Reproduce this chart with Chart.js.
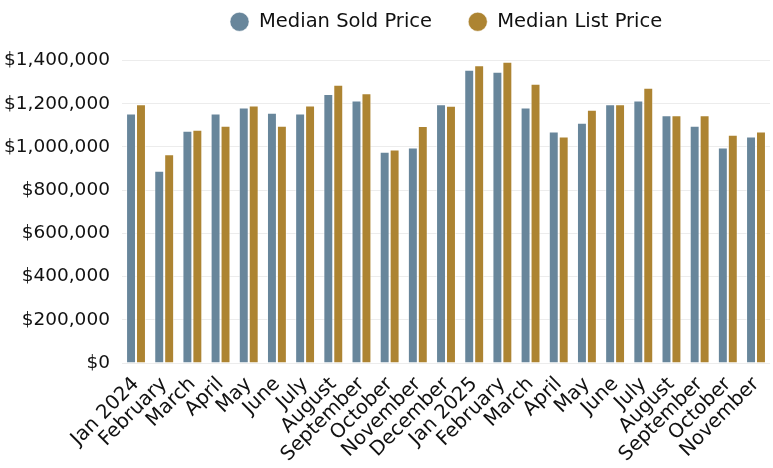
<!DOCTYPE html>
<html>
<head>
<meta charset="utf-8">
<script src="https://cdn.jsdelivr.net/npm/chart.js@4"></script>
<style>
  html, body { margin: 0; padding: 0; background: #fff; }
  #wrap { width: 773px; height: 468px; }
</style>
</head>
<body>
<div id="wrap"><canvas id="myChart"></canvas></div>
<script>
let months = ['Jan 2024','February','March','April','May','June','July','August','September','October','November','December',
              'Jan 2025','February','March','April','May','June','July','August','September','October','November']
let soldPrice = [1155000, 890000, 1075000, 1155000, 1183000, 1158000, 1155000, 1245000, 1215000, 978000, 998000, 1198000,
                 1357000, 1348000, 1183000, 1072000, 1112000, 1198000, 1215000, 1147000, 1098000, 998000, 1048000]
let listPrice = [1198000, 966000, 1080000, 1098000, 1192000, 1098000, 1192000, 1288000, 1248000, 988000, 1097000, 1191000,
                 1378000, 1394000, 1292000, 1048000, 1172000, 1198000, 1274000, 1147000, 1147000, 1057000, 1072000]
let yTicks = [0, 200000, 400000, 600000, 800000, 1000000, 1200000, 1400000]

let ctx = document.getElementById('myChart').getContext('2d')
let fontName = 'DejaVu Sans'

const money = v => '$' + v.toLocaleString('en-US')

// legend needs a wide gap between items but less room above, so grow its box a bit
const legendSpacer = {
    id: 'legendSpacer',
    beforeInit(chart) {
        const fit = chart.legend.fit
        chart.legend.fit = function () {
            fit.call(this)
            this.height += 19
        }
    }
}

let chart = new Chart(ctx, {
    type: 'bar',
    data: {
        labels: months,
        datasets: [{
            label: 'Median Sold Price',
            data: soldPrice,
            backgroundColor: '#68869b',
            borderColor: 'rgba(255,255,255,0.55)',
            borderWidth: 1
        }, {
            label: 'Median List Price',
            data: listPrice,
            backgroundColor: '#ad8432',
            borderColor: 'rgba(255,255,255,0.55)',
            borderWidth: 1
        }]
    },
    plugins: [legendSpacer],
    options: {
        responsive: true,
        maintainAspectRatio: false,
        animation: false,
        layout: { padding: { left: 4, right: 0, top: -24, bottom: 0 } },
        datasets: { bar: { categoryPercentage: 0.706, barPercentage: 1 } },
        plugins: {
            legend: {
                position: 'top',
                fullSize: false,
                labels: {
                    usePointStyle: true,
                    pointStyle: 'circle',
                    boxHeight: 13.5,
                    padding: 36,
                    color: '#111',
                    font: { family: fontName, size: 19.5 }
                }
            },
            tooltip: { enabled: false }
        },
        scales: {
            x: {
                grid: { display: false },
                border: { display: false },
                ticks: {
                    color: '#111',
                    maxRotation: 45,
                    minRotation: 45,
                    autoSkip: false,
                    padding: 3,
                    font: { family: fontName, size: 19.7, lineHeight: 1 }
                }
            },
            y: {
                min: 0,
                max: 1400000,
                afterBuildTicks: axis => { axis.ticks = yTicks.map(v => ({ value: v })) },
                grid: { color: '#ececec', drawTicks: true, tickLength: 12, tickColor: 'rgba(0,0,0,0)' },
                border: { display: false },
                ticks: {
                    color: '#111',
                    padding: 0,
                    font: { family: fontName, size: 18.5 },
                    callback: v => money(v)
                }
            }
        }
    }
})
</script>
</body>
</html>
